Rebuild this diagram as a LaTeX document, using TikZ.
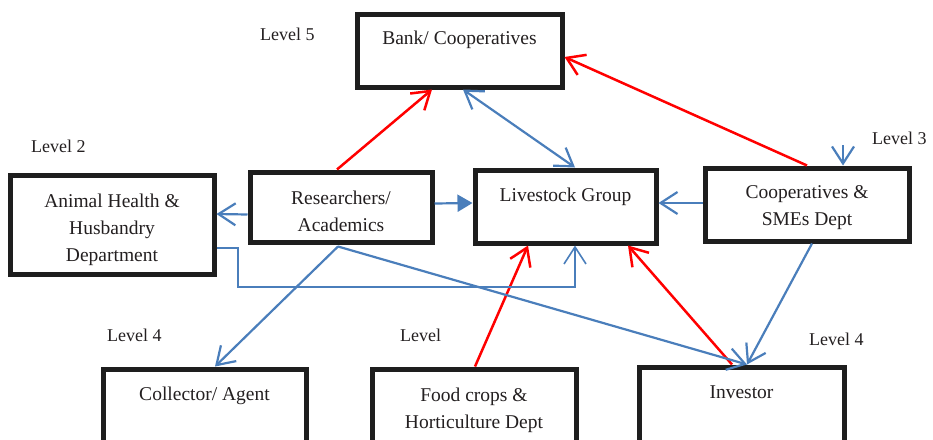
\documentclass[tikz,border=0pt]{standalone}
\usepackage{fontspec}
\setmainfont{Liberation Serif}
\usetikzlibrary{arrows.meta}
\definecolor{linkblue}{RGB}{74,126,187}
\definecolor{linkred}{RGB}{255,0,0}
\definecolor{boxline}{RGB}{30,30,30}
\definecolor{inktext}{RGB}{35,31,32}
\tikzset{
  unitbox/.style={rectangle, draw=boxline, line width=5pt, fill=white, inner sep=0pt},
  boxtext/.style={font=\fontsize{19.5}{27}\selectfont, align=center, inner sep=0pt, anchor=north, text=inktext},
  lvl/.style={font=\fontsize{18}{20}\selectfont, inner sep=0pt, anchor=base west, text=inktext},
  bluelink/.style={draw=linkblue, line width=2.2pt},
  redlink/.style={draw=linkred, line width=2.5pt},
  thinlink/.style={draw=linkblue, line width=1.6pt},
  barb/.style={-{Straight Barb[length=17pt,width=22pt]}},
  barbs/.style={{Straight Barb[length=17pt,width=22pt]}-{Straight Barb[length=17pt,width=22pt]}},
  solidtip/.style={-{Triangle[length=15pt,width=17pt]}},
}
\begin{document}
\begin{tikzpicture}[x=1pt,y=-1pt]
  \useasboundingbox (0,0) rectangle (933,439);
  \clip (0,0) rectangle (933,439);

  % units of the network
  \node[unitbox, minimum width=205pt, minimum height=73pt] (bank) at (459.5,50.5) {};
  \node[unitbox, minimum width=204pt, minimum height=99pt] (ahd)  at (112,224.5) {};
  \node[unitbox, minimum width=182pt, minimum height=70pt] (res)  at (341,207) {};
  \node[unitbox, minimum width=181pt, minimum height=73pt] (live) at (565.5,206.5) {};
  \node[unitbox, minimum width=204pt, minimum height=73pt] (coop) at (807,204.5) {};
  \node[unitbox, minimum width=203pt, minimum height=100pt] (coll) at (204.5,419) {};
  \node[unitbox, minimum width=204pt, minimum height=100pt] (food) at (474,419) {};
  \node[unitbox, minimum width=205pt, minimum height=100pt] (inv)  at (741.5,417) {};

  % box captions
  \node[boxtext] (banktxt) at ([yshift=-19pt]bank.north) {Bank/ Cooperatives};
  \node[boxtext] (ahdtxt)  at ([yshift=-21pt]ahd.north) {Animal Health \&\\Husbandry\\Department};
  \node[boxtext] (restxt)  at ([yshift=-21pt]res.north) {Researchers/\\Academics};
  \node[boxtext] (livetxt) at ([yshift=-20pt]live.north) {Livestock Group};
  \node[boxtext] (cooptxt) at ([yshift=-20pt]coop.north) {Cooperatives \&\\SMEs Dept};
  \node[boxtext] (colltxt) at ([yshift=-20pt]coll.north) {Collector/ Agent};
  \node[boxtext] (foodtxt) at ([yshift=-21pt]food.north) {Food crops \&\\Horticulture Dept};
  \node[boxtext] (invtxt)  at ([yshift=-21pt]inv.north) {Investor};

  % level tags
  \node[lvl] (lv5)  at (260,40)  {Level 5};
  \node[lvl] (lv2)  at (31,152)  {Level 2};
  \node[lvl] (lv3)  at (872,144) {Level 3};
  \node[lvl] (lv4a) at (107,341) {Level 4};
  \node[lvl] (lvx)  at (400,341) {Level};
  \node[lvl] (lv4b) at (809,345) {Level 4};

  \coordinate (l3in) at (843,145);
  \coordinate (elbow) at (238,287);

  % red links
  \draw[redlink, barb] ([xshift=-4pt]res.north) -- ([xshift=-27.5pt]bank.south);
  \draw[redlink, barb] (coop.north) -- ([yshift=-6.5pt]bank.east);
  \draw[redlink, barb] ([xshift=1pt]food.north) -- ([xshift=-37.5pt]live.south);
  \draw[redlink, barb] ([xshift=-9.5pt]inv.north) -- ([xshift=62.5pt]live.south);

  % blue links
  \draw[bluelink, barbs] ([xshift=3.5pt]bank.south) -- ([xshift=9.5pt]live.north);
  \draw[bluelink, barb] (l3in) -- ([xshift=36pt]coop.north);
  \draw[bluelink, barb] ([yshift=1.5pt]coop.west) -- ([yshift=3.5pt]live.east);
  \draw[bluelink, solidtip] ([yshift=3.5pt]res.east) -- ([yshift=3.5pt]live.west);
  \draw[bluelink, barb] ([yshift=-7.5pt]res.west) -- ([yshift=10.5pt]ahd.east);
  \draw[thinlink, barb] ([yshift=-23.5pt]ahd.east) -| (elbow) -| ([xshift=9.5pt]live.south);
  \draw[bluelink, barb] ([xshift=-3pt,yshift=-2pt]res.south) -- ([xshift=10.5pt]coll.north);
  \draw[bluelink, barb] ([xshift=-3pt,yshift=-2pt]res.south) -- ([xshift=5.5pt]inv.north);
  \draw[bluelink, barb] ([xshift=5pt]coop.south) -- ([xshift=5.5pt]inv.north);
\end{tikzpicture}
\end{document}
